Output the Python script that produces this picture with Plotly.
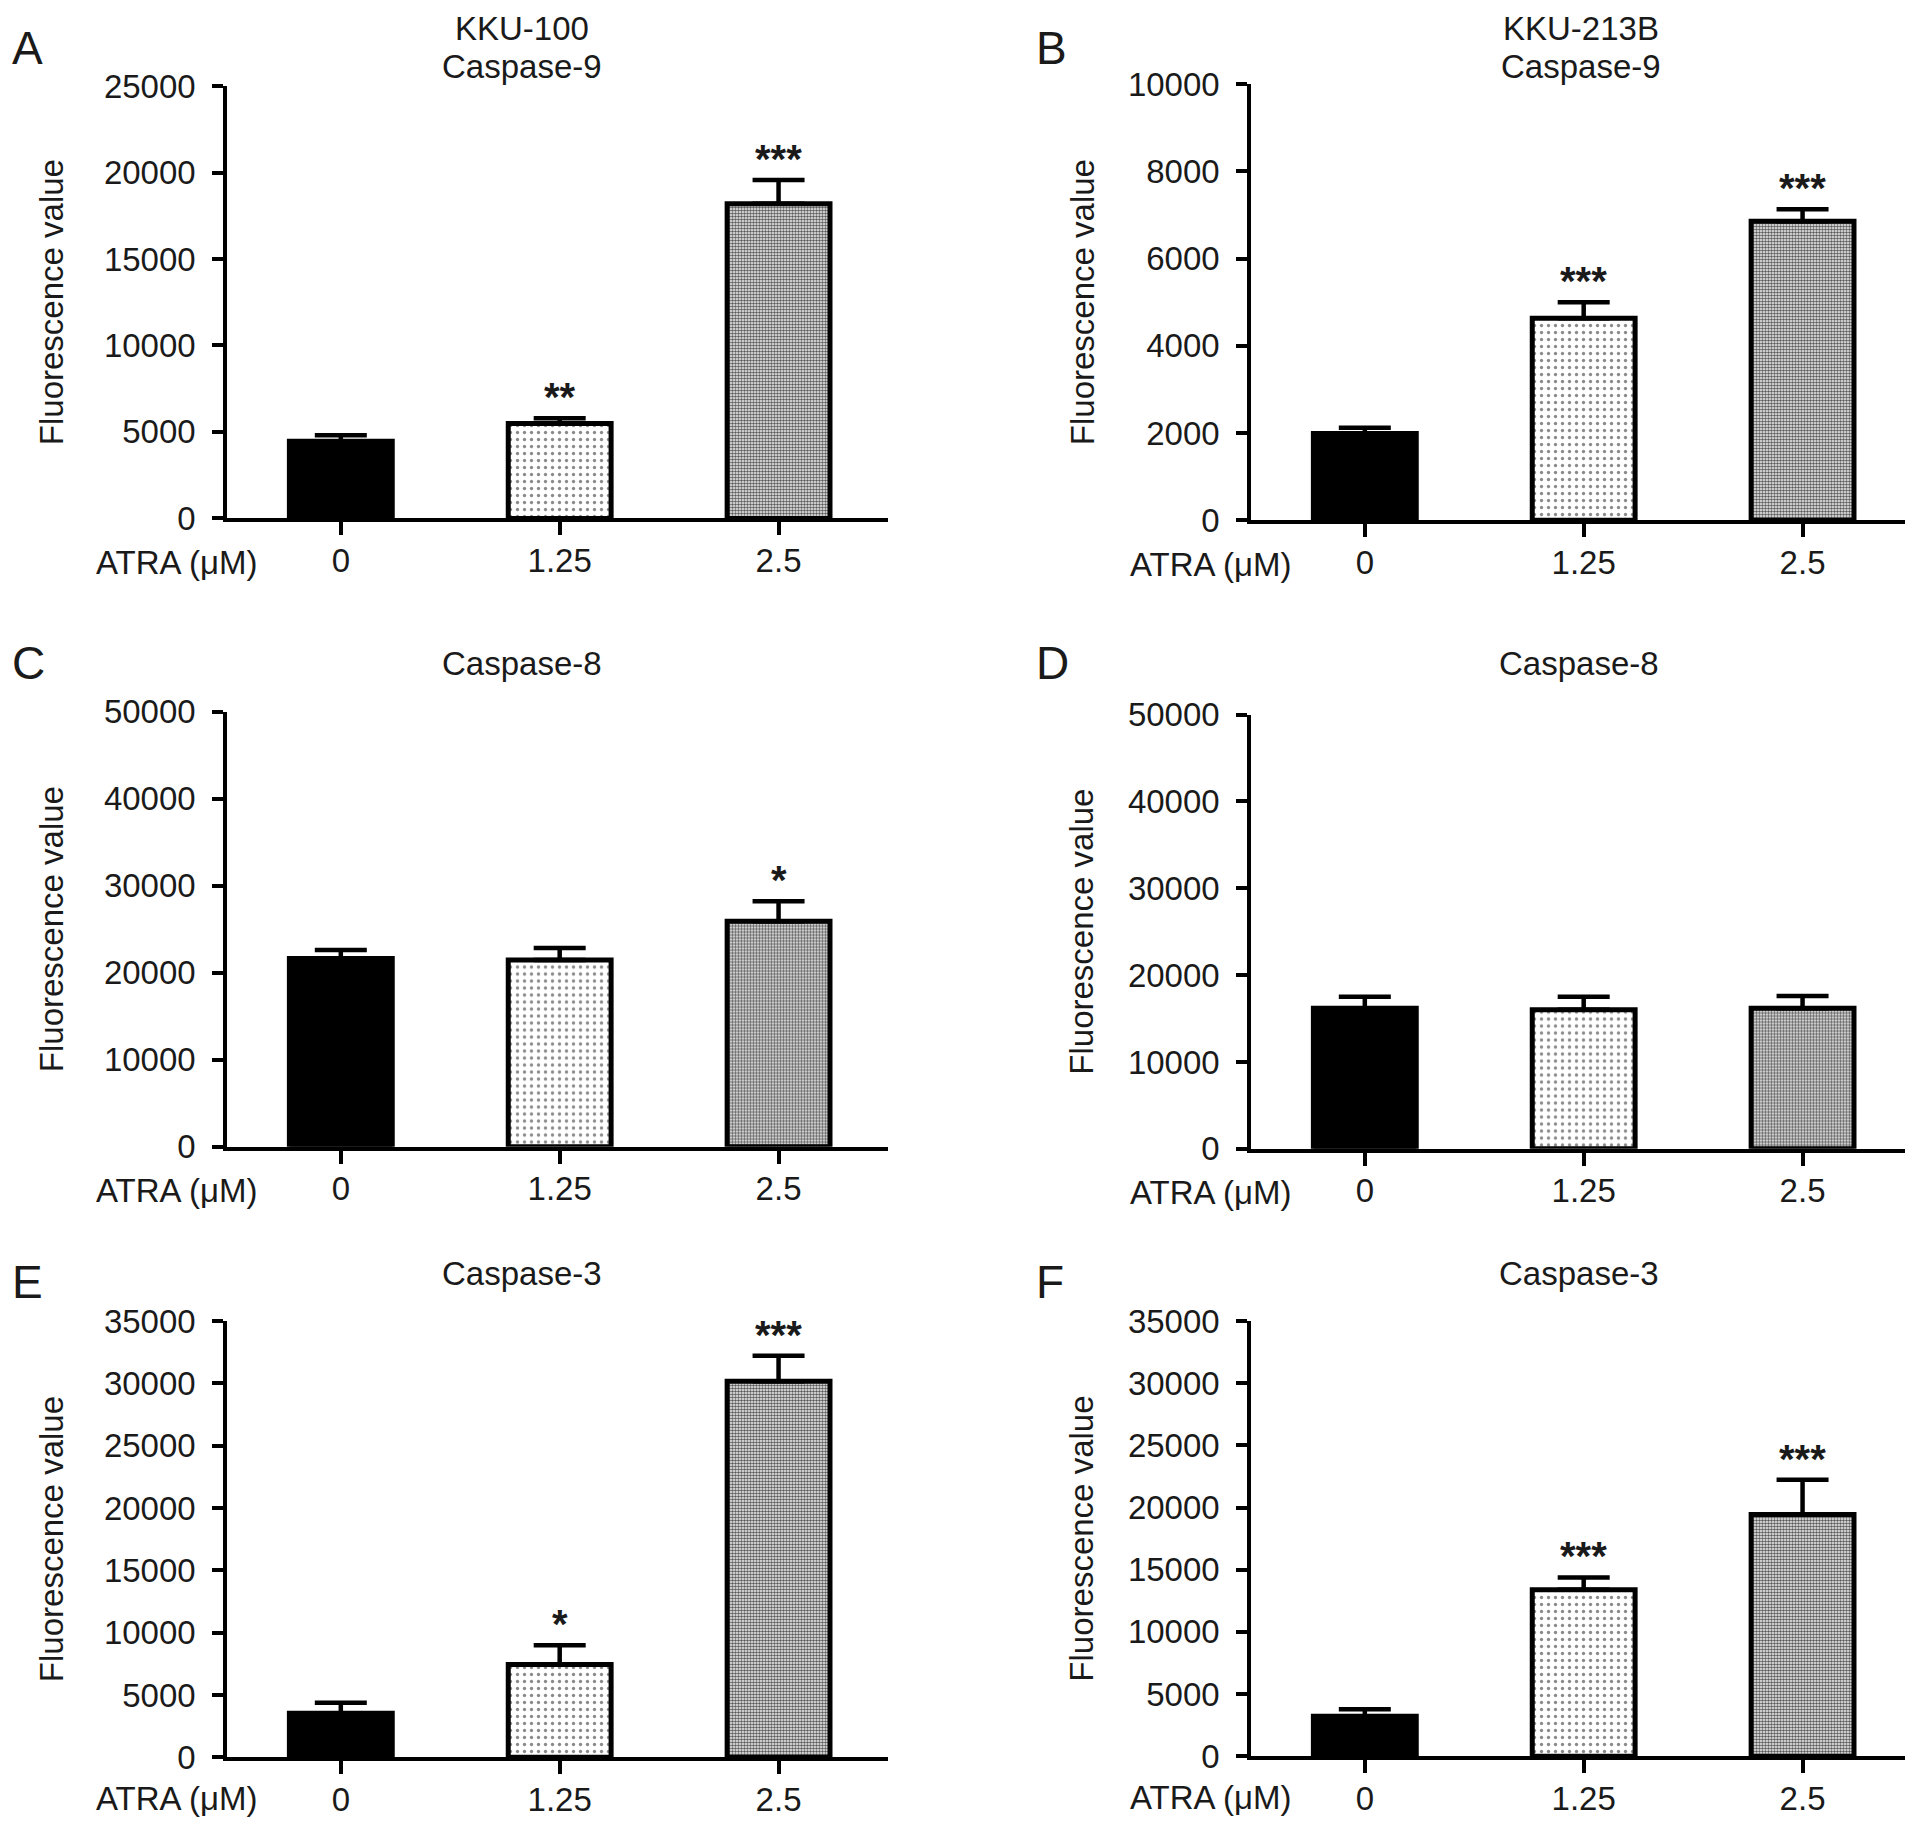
import plotly.graph_objects as go

W, H = 1913, 1826

doses = ["0", "1.25", "2.5"]

kku100_casp9 = [4460, 5490, 18200]
kku100_casp9_err = [350, 300, 1370]
kku100_casp9_sig = ["", "**", "***"]

kku213b_casp9 = [1990, 4630, 6855]
kku213b_casp9_err = [130, 370, 275]
kku213b_casp9_sig = ["", "***", "***"]

kku100_casp8 = [21640, 21470, 25900]
kku100_casp8_err = [960, 1370, 2300]
kku100_casp8_sig = ["", "", "*"]

kku213b_casp8 = [16180, 16000, 16180]
kku213b_casp8_err = [1320, 1500, 1410]
kku213b_casp8_sig = ["", "", ""]

kku100_casp3 = [3540, 7450, 30160]
kku100_casp3_err = [830, 1540, 2060]
kku100_casp3_sig = ["", "*", "***"]

kku213b_casp3 = [3220, 13390, 19440]
kku213b_casp3_err = [560, 990, 2790]
kku213b_casp3_sig = ["", "***", "***"]

y_max = [25000, 10000, 50000, 50000, 35000, 35000]
y_step = [5000, 2000, 10000, 10000, 5000, 5000]
panel_letters = ["A", "B", "C", "D", "E", "F"]
cell_lines = ["KKU-100", "KKU-213B", "", "", "", ""]
caspases = ["Caspase-9", "Caspase-9", "Caspase-8", "Caspase-8", "Caspase-3", "Caspase-3"]
y_title = "Fluorescence value"
x_title = "ATRA (\u03bcM)"

panels = [
    (kku100_casp9, kku100_casp9_err, kku100_casp9_sig),
    (kku213b_casp9, kku213b_casp9_err, kku213b_casp9_sig),
    (kku100_casp8, kku100_casp8_err, kku100_casp8_sig),
    (kku213b_casp8, kku213b_casp8_err, kku213b_casp8_sig),
    (kku100_casp3, kku100_casp3_err, kku100_casp3_sig),
    (kku213b_casp3, kku213b_casp3_err, kku213b_casp3_sig),
]

# target layout in picture pixels (left, right / top, bottom of the axes)
px_x = [(219, 880), (1243, 1904)] * 3
px_y = [(85, 517), (83, 519), (710, 1145), (713, 1147), (1319, 1755), (1319, 1754)]
caspase_px = [(514, 65), (1573, 65), (514, 662), (1571, 662), (514, 1272), (1571, 1272)]
line_px = [(514, 27), (1573, 27)]
letter_px = [(2, 47), (1026, 47), (2, 662), (1026, 662), (2, 1280), (1026, 1280)]
ytitle_xpx = [43, 1074] * 3
atra_right_px = [251, 1285] * 3
atra_gap = [44, 44, 44, 44, 41, 41]

# the page is photographed with the figure placed a little lower and
# slightly squeezed vertically; map target picture rows to figure rows
Y_OFF, Y_SCALE = 25.0, 0.979

FONT = "Liberation Sans, Arial, sans-serif"
TXT = "#1a1a1a"

def fx(p):
    return p / W

def fy(p):
    return 1 - ((p - Y_OFF) / Y_SCALE) / H

bar_styles = [
    dict(color="black", pattern=dict(shape="")),
    dict(color="white", pattern=dict(shape=".", fgcolor="#8a8a8a", bgcolor="white",
                                      size=7, solidity=0.18, fillmode="replace")),
    dict(color="white", pattern=dict(shape=".", fgcolor="#5a5a5a", bgcolor="white",
                                      size=3, solidity=0.6, fillmode="replace")),
]

fig = go.Figure()
annotations = []

def txt(x, y, text, size=33, **kw):
    d = dict(x=fx(x), y=fy(y), xref="paper", yref="paper", text=text, showarrow=False,
             xanchor="center", yanchor="middle", font=dict(family=FONT, size=size, color=TXT))
    d.update(kw)
    annotations.append(d)

for i, (vals, errs, sig) in enumerate(panels):
    n = i + 1
    xa = "x" if n == 1 else f"x{n}"
    ya = "y" if n == 1 else f"y{n}"
    for j in range(len(doses)):
        st = bar_styles[j]
        fig.add_trace(go.Bar(
            x=[j], y=[vals[j]], xaxis=xa, yaxis=ya, width=0.47,
            marker=dict(color=st["color"], line=dict(color="black", width=5),
                        pattern=st["pattern"]),
            error_y=dict(type="data", array=[errs[j]], arrayminus=[0], symmetric=False,
                         color="black", thickness=4.5, width=26),
            showlegend=False, hoverinfo="skip",
        ))
        if sig[j]:
            annotations.append(dict(
                x=j, y=vals[j] + errs[j], xref=xa, yref=ya, text=sig[j],
                showarrow=False, yanchor="bottom", xanchor="center", yshift=-3,
                font=dict(family=FONT, size=40, color=TXT, weight="bold"),
            ))
    xl, xr = px_x[i]
    yt, yb = px_y[i]
    axkey = "xaxis" if n == 1 else f"xaxis{n}"
    aykey = "yaxis" if n == 1 else f"yaxis{n}"
    fig.update_layout(**{
        axkey: dict(domain=[fx(xl), fx(xr)], anchor=ya,
                    tickmode="array", tickvals=list(range(len(doses))), ticktext=doses,
                    range=[-0.52, 2.5], showline=True, linewidth=3.5, linecolor="black",
                    ticks="outside", ticklen=13, tickwidth=3.5, tickcolor="black",
                    showgrid=False, zeroline=False, ticklabelstandoff=-3,
                    tickfont=dict(family=FONT, size=33, color=TXT)),
        aykey: dict(domain=[fy(yb), fy(yt)], anchor=xa, range=[0, y_max[i]],
                    dtick=y_step[i], tick0=0, tickformat="d",
                    showline=True, linewidth=3.5, linecolor="black",
                    ticks="outside", ticklen=11, tickwidth=3.5, tickcolor="black",
                    showgrid=False, zeroline=False, ticklabelstandoff=10,
                    tickfont=dict(family=FONT, size=33, color=TXT)),
    })
    cx, cy = caspase_px[i]
    txt(cx, cy, caspases[i])
    if cell_lines[i]:
        lx_, ly_ = line_px[i]
        txt(lx_, ly_, cell_lines[i])
    lx, ly = letter_px[i]
    txt(lx, ly, panel_letters[i], size=46, xanchor="left")
    txt(ytitle_xpx[i], (yt + yb) / 2, y_title, textangle=-90)
    txt(atra_right_px[i], yb + atra_gap[i], x_title, xanchor="right")

fig.update_layout(
    width=W, height=H, margin=dict(l=0, r=0, t=0, b=0),
    paper_bgcolor="white", plot_bgcolor="white",
    annotations=annotations,
)

fig.write_html("out.html")
